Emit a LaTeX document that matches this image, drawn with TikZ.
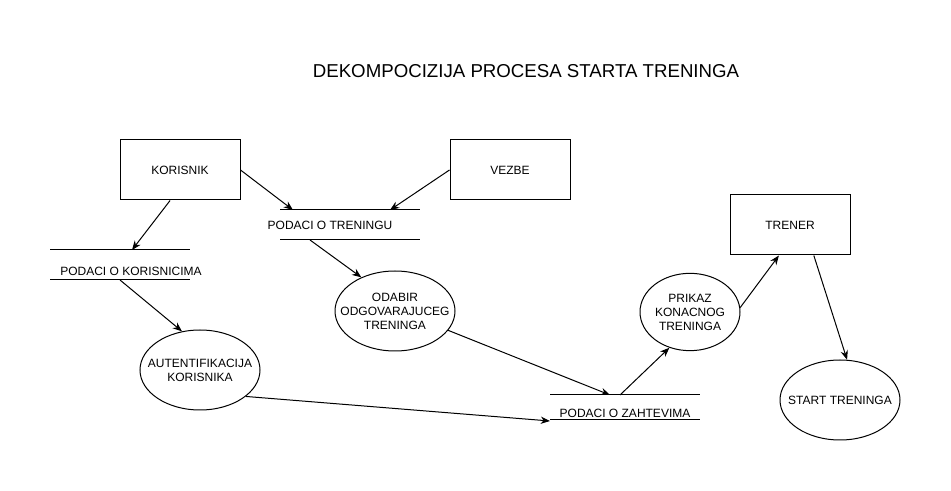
\documentclass[tikz,border=0pt]{standalone}
\usepackage{fontspec}
\setmainfont{Liberation Sans}
\usetikzlibrary{shapes.geometric,arrows.meta}

\begin{document}
\begin{tikzpicture}[x=0.75pt,y=-0.75pt, line width=0.75pt,
  every node/.style={font=\fontsize{9}{10.5}\selectfont},
  every label/.style={align=center,font=\fontsize{9}{10.5}\selectfont},
  entity/.style={draw,minimum width=90pt,minimum height=45pt,inner sep=0pt},
  proc/.style={draw,ellipse,inner sep=0pt,minimum width=90pt,minimum height=60pt},
  storeline/.style={line width=0.75pt},
  flow/.style={-{Stealth[length=7pt,width=5.5pt]}}]
\useasboundingbox (0,0) rectangle (951,491);
\node[font=\fontsize{14}{16}\selectfont] (title) at (526,71) {DEKOMPOCIZIJA PROCESA STARTA TRENINGA};
% entities
\node[entity] (kor) at (180,170) {KORISNIK};
\node[entity] (vez) at (510,170) {VEZBE};
\node[entity] (trn) at (790,225) {TRENER};
% data stores
\draw[storeline] (280,210) -- (420,210) (280,240) -- (420,240);
\node (ptr) at (330,225) {PODACI O TRENINGU};
\draw[storeline] (50,250) -- (190,250) (50,280) -- (190,280);
\node (pkr) at (131,271) {PODACI O KORISNICIMA};
\draw[storeline] (550,395) -- (700,395) (550,420) -- (700,420);
\node (pzh) at (625,413) {PODACI O ZAHTEVIMA};
\coordinate (ptr in1) at (293,210);
\coordinate (ptr in2) at (390,210);
\coordinate (ptr out) at (310,240);
\coordinate (pkr in) at (132,250);
\coordinate (pkr out) at (120,280);
\coordinate (pzh in1) at (610,395);
\coordinate (pzh in2) at (550,421);
\coordinate (pzh out) at (620,395);
% processes
\node[proc,label=center:{ODABIR\\ODGOVARAJUCEG\\TRENINGA}] (odb) at (395,311) {};
\node[proc,label=center:{AUTENTIFIKACIJA\\KORISNIKA}] (aut) at (200,370) {};
\node[proc,minimum width=75pt,minimum height=58pt,label=center:{PRIKAZ\\KONACNOG\\TRENINGA}] (prk) at (690,312) {};
\node[proc,label=center:{START TRENINGA}] (str) at (840,400) {};
% flows
\draw[flow] (kor.east) -- (ptr in1);
\draw[flow] (vez.west) -- (ptr in2);
\draw[flow] (kor.-108) -- (pkr in);
\draw[flow] (pkr out) -- (aut.115);
\draw[flow] (ptr out) -- (odb.135);
\draw[flow] (odb.-20) -- (pzh in1);
\draw[flow] (aut.-30) -- (pzh in2);
\draw[flow] (pzh out) -- (prk.-120);
\draw[flow] (prk.5) -- (trn.-110);
\draw[flow] (trn.-52) -- (str.80);
\end{tikzpicture}
\end{document}
